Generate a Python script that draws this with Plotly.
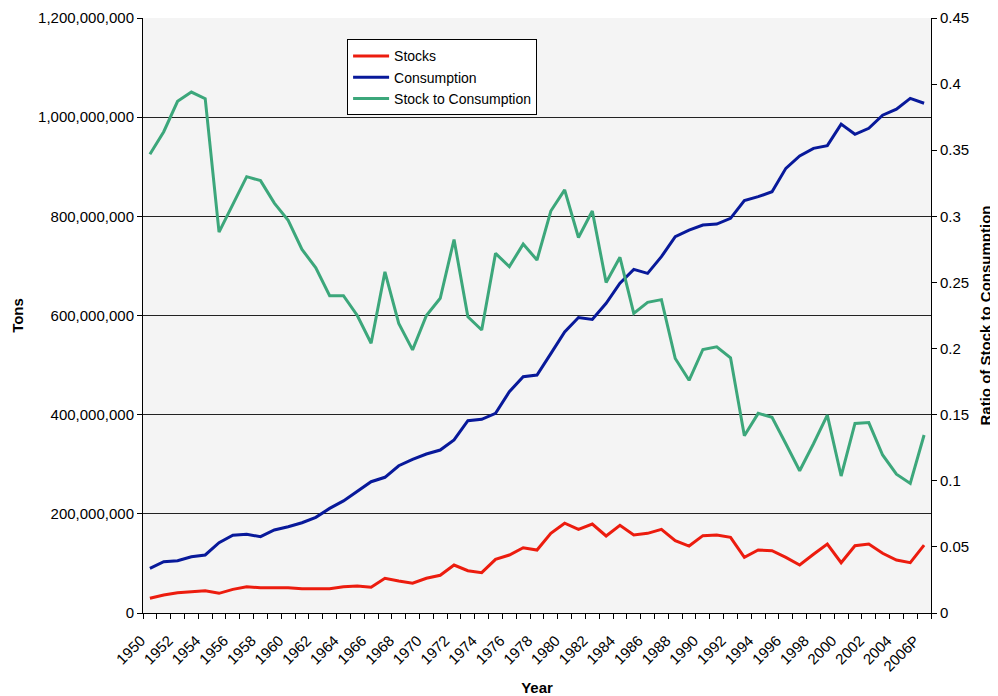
import plotly.graph_objects as go

years = list(range(1950, 2007))
year_labels = ["1950", "1952", "1954", "1956", "1958", "1960", "1962", "1964", "1966",
               "1968", "1970", "1972", "1974", "1976", "1978", "1980", "1982", "1984",
               "1986", "1988", "1990", "1992", "1994", "1996", "1998", "2000", "2002",
               "2004", "2006P"]
label_years = years[::2]

stocks_mt = [29.6, 36.3, 41, 43.7, 45, 39.7, 47.7, 53, 51, 51, 51, 49, 49, 49, 53, 54.5,
             51.8, 70, 64.5, 60, 70, 76, 96.8, 85.3, 81.3, 108.3, 117, 131.7, 127, 160.7,
             181, 168.8, 179.5, 155.3, 176.9, 157.3, 160.7, 168.8, 145.8, 135, 156, 157.3,
             152.7, 112.3, 127, 125.6, 112.3, 96.8, 118.4, 139, 101.4, 135.7, 139, 120.4,
             106.9, 101.4, 137]
consumption_mt = [90, 103.5, 105.5, 113.5, 117, 141.8, 156.7, 158.7, 153.9, 167.4, 174, 182,
                  193, 211, 226, 244.6, 264.8, 273.7, 297, 310, 320.7, 328.7, 349, 387.8,
                  390.6, 402.7, 446.3, 476.6, 480, 523, 567, 596, 592, 624.6, 665, 693, 685,
                  718.6, 759, 772, 782.5, 784.5, 796, 831.6, 839.7, 849.7, 896.8, 921.7, 937,
                  942.5, 986, 965.4, 977.5, 1004, 1016, 1038, 1028]
ratio = [0.347, 0.364, 0.387, 0.394, 0.389, 0.288, 0.309, 0.330, 0.327, 0.310, 0.297, 0.275,
         0.261, 0.240, 0.240, 0.225, 0.204, 0.258, 0.219, 0.199, 0.225, 0.238, 0.2825, 0.224,
         0.214, 0.272, 0.262, 0.279, 0.267, 0.304, 0.320, 0.284, 0.304, 0.250, 0.269, 0.2266,
         0.235, 0.237, 0.1925, 0.176, 0.1993, 0.2013, 0.193, 0.134, 0.151, 0.148, 0.128,
         0.1076, 0.128, 0.1497, 0.1036, 0.1434, 0.144, 0.1195, 0.105, 0.098, 0.1346]

stocks = [v * 1e6 for v in stocks_mt]
consumption = [v * 1e6 for v in consumption_mt]

RED = "#ec1c0e"
BLUE = "#08199a"
GREEN = "#3ca77b"
FONT = "Liberation Sans, Arial, sans-serif"
FS = 15

boundaries = [y - 0.5 for y in years] + [years[-1] + 0.5]
xrange_ = [years[0] - 0.5, years[-1] + 0.5]

fig = go.Figure()
fig.add_trace(go.Scatter(x=years, y=stocks, name="Stocks", mode="lines",
                         line=dict(color=RED, width=3)))
fig.add_trace(go.Scatter(x=years, y=consumption, name="Consumption", mode="lines",
                         line=dict(color=BLUE, width=3)))
fig.add_trace(go.Scatter(x=years, y=ratio, name="Stock to Consumption", mode="lines",
                         line=dict(color=GREEN, width=3), yaxis="y2"))

# page body has an 8px default margin, so the figure is sized/offset accordingly
fig.update_layout(
    width=990, height=688,
    margin=dict(l=135, r=67, t=10, b=83),
    paper_bgcolor="white",
    plot_bgcolor="#f4f4f4",
    font=dict(family=FONT, size=FS, color="black"),
    showlegend=True,
    legend=dict(x=0.259, y=0.964, xanchor="left", yanchor="top",
                bgcolor="white", bordercolor="black", borderwidth=1,
                font=dict(size=14), tracegroupgap=0, itemwidth=36,
                entrywidth=168),
    xaxis=dict(range=xrange_, tickmode="array", tickvals=label_years, ticktext=year_labels,
               tickangle=-45, ticks="", showgrid=False, zeroline=False, automargin=False,
               ticklabelshift=-9, ticklabelstandoff=12,
               showline=True, linecolor="black", linewidth=1,
               minor=dict(tickmode="array", tickvals=boundaries, ticks="outside",
                          ticklen=5, tickcolor="black", showgrid=False),
               title=dict(text="<b>Year</b>", font=dict(size=FS), standoff=12)),
    xaxis2=dict(range=xrange_, overlaying="x", anchor="y", side="bottom",
                tickmode="array", tickvals=boundaries, ticks="inside", ticklen=5,
                tickcolor="black", showticklabels=False, showgrid=False, zeroline=False,
                showline=False, automargin=False),
    xaxis3=dict(range=xrange_, overlaying="x", anchor="y", side="top",
                ticks="", showticklabels=False, showgrid=False, zeroline=False,
                showline=True, linecolor="#8a8a8a", linewidth=1, automargin=False),
    yaxis=dict(range=[0, 1.2e9], dtick=2e8, tickformat=",", showgrid=True,
               gridcolor="#222222", gridwidth=1, zeroline=False, automargin=False,
               showline=True, linecolor="black", linewidth=1,
               ticks="outside", ticklen=5, tickcolor="black",
               title=dict(text="<b>Tons</b>", font=dict(size=FS), standoff=10)),
    yaxis2=dict(range=[0, 0.45], dtick=0.05, overlaying="y", side="right",
                showgrid=False, zeroline=False, showline=True, linecolor="black",
                linewidth=1, ticks="outside", ticklen=5, tickcolor="black", automargin=False,
                title=dict(text="<b>Ratio of Stock to Consumption</b>", font=dict(size=FS),
                           standoff=12)),
)

fig.write_html("out.html")
